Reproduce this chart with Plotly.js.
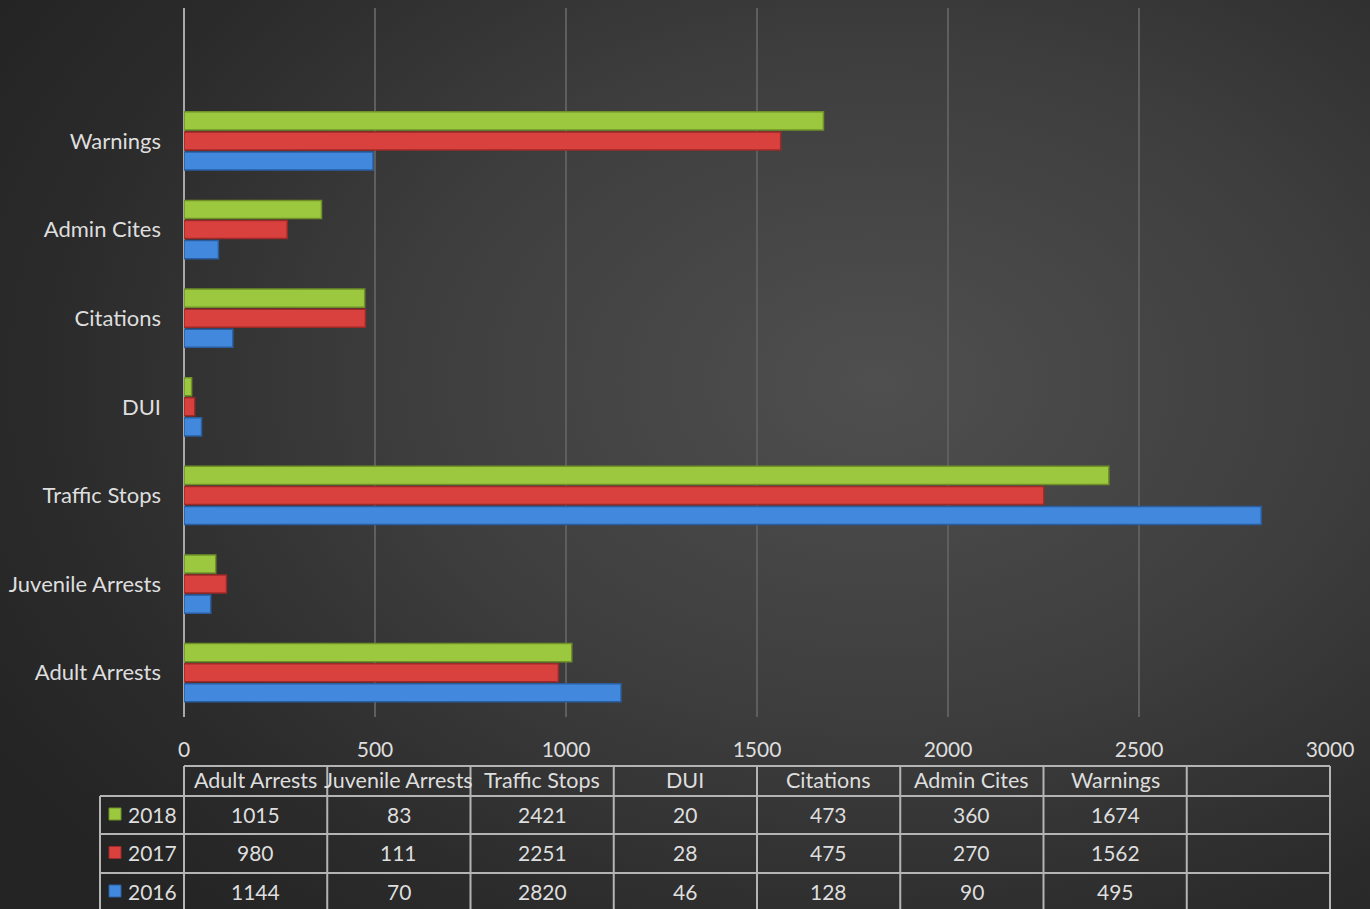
<!DOCTYPE html>
<html>
<head>
<meta charset="utf-8">
<script src="https://cdn.plot.ly/plotly-3.0.1.min.js"></script>
<style>
html,body{margin:0;padding:0;width:1370px;height:909px;overflow:hidden;}
body{background:radial-gradient(ellipse 75% 80% at 64% 42%, #4f4f4f 0%, #3e3e3e 45%, #2b2b2b 80%, #242424 100%);}
#chart{width:1370px;height:909px;}
</style>
</head>
<body>
<div id="chart"></div>
<script>
// ---- data ----
var categories = ['Adult Arrests', 'Juvenile Arrests', 'Traffic Stops', 'DUI', 'Citations', 'Admin Cites', 'Warnings'];
var years = ['2018', '2017', '2016'];
var values2018 = [1015, 83, 2421, 20, 473, 360, 1674];
var values2017 = [980, 111, 2251, 28, 475, 270, 1562];
var values2016 = [1144, 70, 2820, 46, 128, 90, 495];
var xTickVals = [0, 500, 1000, 1500, 2000, 2500, 3000];
var xTickText = ['0', '500', '1000', '1500', '2000', '2500', '3000'];

// ---- styles ----
var colors = {'2018': '#9cc83f', '2017': '#d8413e', '2016': '#4289dd'};
var lineColors = {'2018': '#6f9128', '2017': '#9e2a28', '2016': '#2a5ea0'};
var textColor = '#dedede';
var fontFam = 'Lato, "Open Sans", sans-serif';

var seriesByYear = {'2018': values2018, '2017': values2017, '2016': values2016};

var traces = ['2016', '2017', '2018'].map(function (yr) {
  return {
    type: 'bar',
    orientation: 'h',
    name: yr,
    y: categories,
    x: seriesByYear[yr],
    marker: {color: colors[yr], line: {color: lineColors[yr], width: 1.5}},
    hoverinfo: 'x+name'
  };
});

// ---- data table (drawn with shapes + annotations in paper coords) ----
var L = 184, R = 1330, T = 8, B = 717;
function px(x) { return (x - L) / (R - L); }
function py(y) { return (B - y) / (B - T); }

var nCols = categories.length + 1; // Excel table has one extra empty column
var headerTop = 766, headerBot = 796, rowBounds = [796, 834, 873, 913];
var labelLeft = 100;
var lineStyle = {color: '#b4b4b4', width: 2};

var shapes = [];
shapes.push({type: 'line', xref: 'paper', yref: 'paper', x0: 0, x1: 1, y0: py(headerTop), y1: py(headerTop), line: lineStyle});
rowBounds.forEach(function (yy) {
  shapes.push({type: 'line', xref: 'paper', yref: 'paper', x0: px(labelLeft), x1: 1, y0: py(yy), y1: py(yy), line: lineStyle});
});
shapes.push({type: 'line', xref: 'paper', yref: 'paper', x0: px(labelLeft), x1: px(labelLeft), y0: py(headerBot), y1: py(913), line: lineStyle});
for (var c = 0; c <= nCols; c++) {
  shapes.push({type: 'line', xref: 'paper', yref: 'paper', x0: c / nCols, x1: c / nCols, y0: py(headerTop), y1: py(913), line: lineStyle});
}

var annotations = [];
var headerLabels = categories.concat(['']);
headerLabels.forEach(function (lab, i) {
  annotations.push({xref: 'paper', yref: 'paper', x: (i + 0.5) / nCols, y: py((headerTop + headerBot) / 2 - 1),
    text: lab, showarrow: false, xanchor: 'center', yanchor: 'middle',
    font: {family: fontFam, size: 21.5, color: textColor}});
});
years.forEach(function (yr, r) {
  var ym = (rowBounds[r] + rowBounds[r + 1]) / 2 - 1;
  if (r === 2) { ym = 891; }
  var yc = py(ym);
  var vals = seriesByYear[yr];
  vals.forEach(function (v, i) {
    annotations.push({xref: 'paper', yref: 'paper', x: (i + 0.5) / nCols, y: yc,
      text: String(v), showarrow: false, xanchor: 'center', yanchor: 'middle',
      font: {family: fontFam, size: 21, color: textColor}});
  });
  annotations.push({xref: 'paper', yref: 'paper', x: px(126), y: yc,
    text: yr, showarrow: false, xanchor: 'left', yanchor: 'middle',
    font: {family: fontFam, size: 21, color: textColor}});
  shapes.push({type: 'rect', xref: 'paper', yref: 'paper', x0: px(109), x1: px(121), y0: py(ym - 6), y1: py(ym + 6),
    fillcolor: colors[yr], line: {width: 1, color: lineColors[yr]}});
});

var layout = {
  width: 1370, height: 909,
  paper_bgcolor: 'rgba(0,0,0,0)',
  plot_bgcolor: 'rgba(0,0,0,0)',
  margin: {l: L, r: 1370 - R, t: T, b: 909 - B, pad: 0},
  showlegend: false,
  barmode: 'group',
  bargap: 0.32,
  bargroupgap: 0.1,
  font: {family: fontFam, color: textColor, size: 20},
  xaxis: {
    range: [0, 3000], tickvals: xTickVals, ticktext: xTickText,
    showgrid: true, gridcolor: '#5e5e5e', gridwidth: 1.5,
    zeroline: true, zerolinecolor: '#a8a8a8', zerolinewidth: 2,
    showline: false, ticks: '', ticklabelstandoff: 18,
    tickfont: {family: fontFam, size: 21, color: textColor},
    fixedrange: true
  },
  yaxis: {
    type: 'category', range: [-0.5, 7.5],
    showgrid: false, zeroline: false, showline: false, ticks: '',
    ticklabelstandoff: 22,
    tickfont: {family: fontFam, size: 22, color: textColor},
    fixedrange: true
  },
  shapes: shapes,
  annotations: annotations
};

Plotly.newPlot('chart', traces, layout, {displayModeBar: false, staticPlot: true});
</script>
</body>
</html>
